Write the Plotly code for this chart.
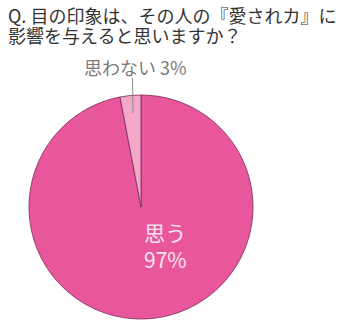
import plotly.graph_objects as go

title_lines = ["Q. 目の印象は、その人の『愛されカ』に", "影響を与えると思いますか？"]
labels = ["思う", "思わない"]
values = [97, 3]
colors = ["#E8579B", "#F3A8CA"]

W, H = 341, 331
cx, cy, r = 141, 207, 112

fig = go.Figure()
fig.add_trace(go.Pie(
    labels=labels, values=values, sort=False, direction="clockwise",
    rotation=0, textinfo="none", hoverinfo="label+percent",
    marker=dict(colors=colors, line=dict(color="#7A2A55", width=0.8)),
    domain=dict(x=[(cx - r) / W, (cx + r) / W], y=[(H - cy - r) / H, (H - cy + r) / H]),
    showlegend=False,
))

font = "Noto Sans CJK JP"
for i, (line, yc) in enumerate(zip(title_lines, [15, 35])):
    fig.add_annotation(x=6 / W, y=1 - yc / H, xref="paper", yref="paper", xanchor="left", yanchor="middle",
                       text=line, showarrow=False, align="left",
                       font=dict(family=font, size=18, color="#333333"))
fig.add_annotation(x=135 / W, y=1 - 67 / H, xref="paper", yref="paper", xanchor="center", yanchor="middle",
                   text=f"{labels[1]} {values[1]}%", showarrow=False,
                   font=dict(family=font, size=18, color="#7a7a7a"))
fig.add_annotation(x=165 / W, y=1 - 245 / H, xref="paper", yref="paper", xanchor="center", yanchor="middle",
                   text=f"{labels[0]}<br>{values[0]}%", showarrow=False,
                   font=dict(family=font, size=21, color="#FCE4EF"))
fig.add_shape(type="line", xref="paper", yref="paper",
              x0=132.5 / W, y0=1 - 78 / H, x1=133 / W, y1=1 - 113 / H,
              line=dict(color="#8a8a8a", width=1))

fig.update_layout(width=W, height=H, margin=dict(l=0, r=0, t=0, b=0),
                  paper_bgcolor="white", plot_bgcolor="white")
fig.write_html("out.html")
